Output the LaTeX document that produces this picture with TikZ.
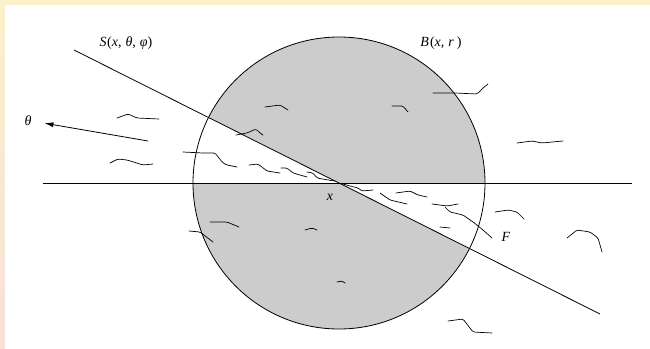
\documentclass[tikz,border=0pt]{standalone}
\usepackage{fontspec}
\setmainfont{Liberation Serif}
\usetikzlibrary{arrows.meta}
\definecolor{bgyellow}{HTML}{FBF0C9}
\definecolor{bgpink}{HTML}{F8E1D9}
\definecolor{ballgray}{HTML}{CCCCCC}
\newcommand{\vi}[1]{\textit{#1}}
\begin{document}
\begin{tikzpicture}[x=1pt,y=-1pt,
  lbl/.style={font=\fontsize{14}{16}\selectfont, inner sep=0pt},
  edge/.style={line width=0.8pt},
  fiber/.style={line width=0.7pt, rounded corners=1.5pt, line cap=round},
]
\useasboundingbox (0,0) rectangle (650,348);
\shade[top color=bgyellow, bottom color=bgpink] (0,0) rectangle (650,348);
\fill[white] (5,5) rectangle (651,349);

\coordinate (c) at (339,183);
\coordinate (sA) at (74,50);
\coordinate (sB) at (600,314);
\coordinate (hA) at (43,183);
\coordinate (hB) at (632,183);
\coordinate (thtail) at (148,141);

% ball with white double wedge
\begin{scope}
  \clip (c) circle[radius=146pt];
  \fill[ballgray] (c) circle[radius=146pt];
  \fill[white] (c) -- (sA) -- (74,183) -- cycle;
  \fill[white] (c) -- (sB) -- (600,183) -- cycle;
\end{scope}
\draw[edge] (c) circle[radius=146pt];

% labels
\node[lbl] (S) at (126,43) {\vi{S}\kern0.5pt(\vi{x},\kern4pt\vi{θ},\kern4pt\vi{φ})};
\node[lbl] (B) at (441,43) {\vi{B}\kern1pt(\vi{x},\kern4pt\vi{r}\kern3pt)};
\node[lbl] (X) at (330,197) {\vi{x}};
\node[lbl] (F) at (506,237) {\vi{F}};
\node[lbl] (th) at (28,121) {\vi{θ}};

% lines
\draw[edge] (sA) -- (c) -- (sB);
\draw[edge] (hA) -- (hB);
\draw[edge, -{Latex[length=9pt,width=5pt]}, shorten >=13pt] (thtail) -- (th.east);

% fibers
\draw[fiber] (117,118) -- (128,114) -- (137,118) -- (159,119);
\draw[fiber] (110,163) -- (118,159) -- (127,160) -- (143,165) -- (153,164);
\draw[fiber] (265,107) -- (280,105) -- (288,110);
\draw[fiber] (236,135) -- (247,133) -- (256,129) -- (260,133) -- (263,135);
\draw[fiber] (183,152) -- (203,153) -- (215,153) -- (223,163) -- (227,165) -- (237,167);
\draw[fiber] (249,165) -- (258,164) -- (267,171) -- (280,173);
\draw[fiber] (281,168) -- (287,168) -- (293,173) -- (307,177);
\draw[fiber] (307,172) -- (313,173) -- (317,178) -- (328,180) -- (335,181);
\draw[fiber] (343,184) -- (350,186) -- (358,188) -- (362,191) -- (373,190);
\draw[fiber] (380,193) -- (390,200) -- (407,204);
\draw[fiber] (396,193) -- (410,191) -- (418,195) -- (427,197);
\draw[fiber] (432,204) -- (447,206) -- (458,204);
\draw[fiber] (445,207) -- (450,212) -- (463,215) -- (473,222) -- (483,230) -- (492,238);
\draw[fiber] (440,227) -- (450,228);
\draw[fiber] (495,212) -- (508,210) -- (517,212) -- (524,219);
\draw[fiber] (567,238) -- (577,230) -- (590,232) -- (598,238) -- (602,252);
\draw[fiber] (448,321) -- (463,319) -- (473,332) -- (492,333);
\draw[fiber] (337,282) -- (342,281) -- (345,283);
\draw[fiber] (433,93) -- (455,93) -- (477,94) -- (483,88) -- (488,84);
\draw[fiber] (392,106) -- (403,106) -- (408,112);
\draw[fiber] (517,143) -- (532,141) -- (542,143) -- (563,141);
\draw[fiber] (210,222) -- (227,222) -- (239,227);
\draw[fiber] (189,231) -- (200,232) -- (213,242);
\draw[fiber] (305,230) -- (312,228) -- (317,230);
\end{tikzpicture}
\end{document}
